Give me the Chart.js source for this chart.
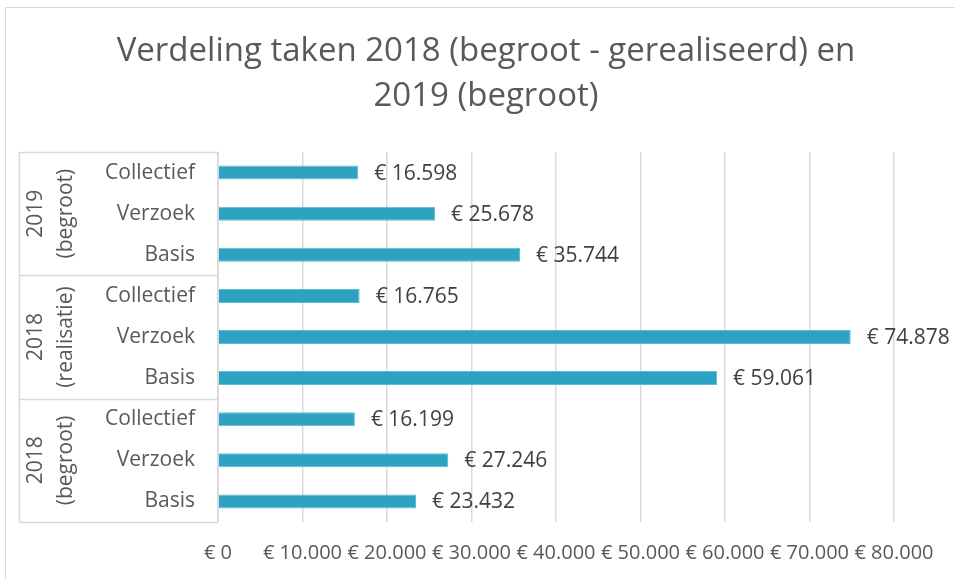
<!DOCTYPE html>
<html>
<head>
<meta charset="utf-8">
<script src="https://cdn.jsdelivr.net/npm/chart.js@4/dist/chart.umd.min.js"></script>
<style>
    html, body { margin: 0; padding: 0; background: #fff; }
    #wrap { width: 955px; height: 579px; }
</style>
</head>
<body>
<div id="wrap"><canvas id="chart" width="955" height="579"></canvas></div>
<script>
// Data
const categories = ['Collectief', 'Verzoek', 'Basis', 'Collectief', 'Verzoek', 'Basis', 'Collectief', 'Verzoek', 'Basis'];
const groups = [['2019', '(begroot)'], ['2018', '(realisatie)'], ['2018', '(begroot)']];
const groupSize = 3;
const amounts = [16598, 25678, 35744, 16765, 74878, 59061, 16199, 27246, 23432];
const xTicks = [0, 10000, 20000, 30000, 40000, 50000, 60000, 70000, 80000];
const titleLines = ['Verdeling taken 2018 (begroot - gerealiseerd) en', '2019 (begroot)'];

const textColor = '#595959';
const lineColor = '#d9d9d9';
const font = '"Open Sans", sans-serif';

// € 16.598 style
function euro(v) {
    return '€ ' + String(Math.round(v)).replace(/\B(?=(\d{3})+(?!\d))/g, '.');
}

// Border, title, group boxes and value labels
const extras = {
    id: 'extras',
    beforeDraw(chart) {
        const ctx = chart.ctx;
        ctx.save();
        ctx.strokeStyle = lineColor;
        ctx.lineWidth = 1;
        ctx.strokeRect(5.5, 7.5, 1000, 1000);

        ctx.fillStyle = textColor;
        ctx.font = '33px ' + font;
        ctx.textAlign = 'center';
        ctx.textBaseline = 'middle';
        titleLines.forEach((line, i) => ctx.fillText(line, 486, 52 + i * 45));
        ctx.restore();
    },
    afterDatasetsDraw(chart) {
        const ctx = chart.ctx;
        const y = chart.scales.y;
        const area = chart.chartArea;
        const boxLeft = 19.5;
        const half = (y.getPixelForValue(1) - y.getPixelForValue(0)) / 2;

        ctx.save();
        ctx.strokeStyle = lineColor;
        ctx.lineWidth = 1.5;
        ctx.beginPath();
        ctx.moveTo(boxLeft, area.top);
        ctx.lineTo(boxLeft, area.bottom);
        ctx.moveTo(area.left, area.top);
        ctx.lineTo(area.left, area.bottom);
        for (let g = 0; g <= groups.length; g++) {
            const py = Math.round(y.getPixelForValue(g * groupSize) - half) + 0.5;
            ctx.moveTo(boxLeft, py);
            ctx.lineTo(area.left, py);
        }
        ctx.stroke();

        // rotated group labels
        ctx.fillStyle = textColor;
        ctx.font = '21px ' + font;
        ctx.textAlign = 'center';
        ctx.textBaseline = 'middle';
        groups.forEach((lines, g) => {
            const top = y.getPixelForValue(g * groupSize) - half;
            const bottom = y.getPixelForValue(g * groupSize + groupSize - 1) + half;
            const cy = (top + bottom) / 2;
            ctx.save();
            ctx.translate(0, cy);
            ctx.rotate(-Math.PI / 2);
            ctx.fillText(lines[0], 0, 36);
            ctx.fillText(lines[1], 0, 66);
            ctx.restore();
        });

        // value labels
        const meta = chart.getDatasetMeta(0);
        ctx.fillStyle = '#404040';
        ctx.font = '21px ' + font;
        ctx.textAlign = 'left';
        meta.data.forEach((bar, i) => {
            ctx.fillText(euro(amounts[i]), bar.x + 16, bar.y + 1);
        });
        ctx.restore();
    }
};

new Chart(document.getElementById('chart'), {
    type: 'bar',
    data: {
        labels: categories,
        datasets: [{
            data: amounts,
            backgroundColor: '#2ea3c1',
            borderColor: '#5cbcd4',
            borderWidth: 1,
            barPercentage: 0.34,
            categoryPercentage: 1
        }]
    },
    options: {
        indexAxis: 'y',
        responsive: false,
        animation: false,
        layout: { padding: { top: 152, right: 61, bottom: 0, left: 0 } },
        plugins: {
            legend: { display: false },
            tooltip: { enabled: false },
            title: { display: false }
        },
        scales: {
            x: {
                min: 0,
                max: 80000,
                afterBuildTicks: (axis) => { axis.ticks = xTicks.map(v => ({ value: v })); },
                afterFit: (axis) => { axis.height = 57; },
                grid: { color: lineColor, lineWidth: 1.5, drawTicks: false },
                border: { display: false },
                ticks: {
                    color: textColor,
                    font: { family: font, size: 20 },
                    padding: 19,
                    maxRotation: 0,
                    autoSkip: false,
                    callback: (v) => euro(v)
                }
            },
            y: {
                afterFit: (axis) => { axis.width = 218; },
                grid: { display: false, drawTicks: false },
                border: { display: false },
                ticks: {
                    color: textColor,
                    font: { family: font, size: 21 },
                    padding: 23,
                    autoSkip: false
                }
            }
        }
    },
    plugins: [extras]
});
</script>
</body>
</html>
